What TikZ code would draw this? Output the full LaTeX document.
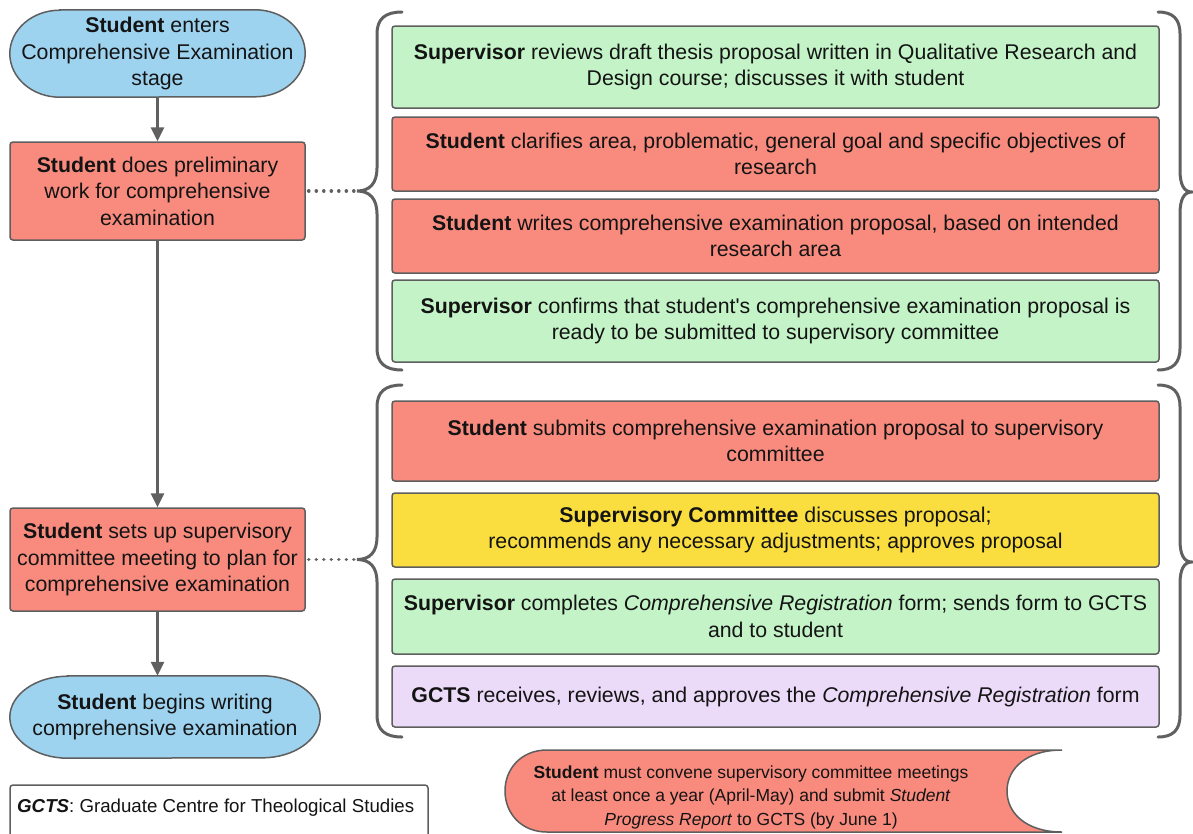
\documentclass[tikz,border=0pt]{standalone}
\usepackage{fontspec}
\setmainfont{Liberation Sans}
\usetikzlibrary{arrows.meta,backgrounds}
\definecolor{cblue}{HTML}{9ED3F0}
\definecolor{csalmon}{HTML}{F98B7E}
\definecolor{cgreen}{HTML}{C3F3C7}
\definecolor{cyellow}{HTML}{FADE3F}
\definecolor{clav}{HTML}{ECDAF9}
\definecolor{cborder}{HTML}{5E5E5E}
\definecolor{cline}{HTML}{606060}
\definecolor{ctext}{HTML}{141414}
\tikzset{
  basebox/.style={draw=cborder, line width=1.5pt, rounded corners=3pt, inner ysep=0pt, inner xsep=2pt,
    align=center, text=ctext, font=\fontsize{21.3}{26.5}\selectfont},
  lbox/.style={basebox, minimum width=295pt},
  rbox/.style={basebox, minimum width=767pt},
  stadtext/.style={inner ysep=0pt, inner xsep=0pt, align=center, text=ctext, font=\fontsize{21.3}{26.5}\selectfont},
  stad/.style={draw=cborder, line width=1.5pt, fill=cblue},
  flow/.style={draw=cline, line width=3pt, -{Triangle[width=13pt,length=14pt]}},
  dotline/.style={draw=cline, line width=3.6pt, dash pattern=on 0.01pt off 7.5pt, line cap=round},
  bracepath/.style={draw=cline, line width=3pt, line cap=round},
}
\begin{document}
\begin{tikzpicture}[x=1pt,y=-1pt]
\useasboundingbox (0,0) rectangle (1193,833);
\clip (0,0) rectangle (1193,833);

% left column
\node[stadtext, minimum width=295pt, minimum height=87pt] (n1) at (157.5,53.5)
  {\textbf{Student} enters\\Comprehensive Examination\\stage};
\node[lbox, fill=csalmon, minimum height=98pt] (n2) at (157.5,191)
  {\textbf{Student} does preliminary\\work for comprehensive\\examination};
\node[lbox, fill=csalmon, minimum height=103pt] (n3) at (157.5,559.5)
  {\textbf{Student} sets up supervisory\\committee meeting to plan for\\comprehensive examination};
\node[stadtext, minimum width=310pt, minimum height=82pt] (n4) at (165,717)
  {\textbf{Student} begins writing\\comprehensive examination};

\begin{scope}[on background layer]
\fill[white] (0,0) rectangle (1193,833);
\path[stad] ([xshift=50pt]n1.north west) -- ([xshift=-50pt]n1.north east)
  arc[start angle=90, end angle=-90, x radius=50pt, y radius=43.5pt]
  -- ([xshift=50pt]n1.south west)
  arc[start angle=270, end angle=90, x radius=50pt, y radius=43.5pt] -- cycle;
\path[stad] ([xshift=58pt]n4.north west) -- ([xshift=-58pt]n4.north east)
  arc[start angle=90, end angle=-90, x radius=58pt, y radius=41pt]
  -- ([xshift=58pt]n4.south west)
  arc[start angle=270, end angle=90, x radius=58pt, y radius=41pt] -- cycle;
\end{scope}

\draw[flow] (n1.south) -- (n2.north);
\draw[flow] (n2.south) -- (n3.north);
\draw[flow] (n3.south) -- (n3.south |- n4.north);

% right group 1
\node[rbox, fill=cgreen, minimum height=82pt] (a) at (775.5,67)
  {\textbf{Supervisor} reviews draft thesis proposal written in Qualitative Research and\\Design course; discusses it with student};
\node[rbox, fill=csalmon, minimum height=74pt] (b) at (775.5,154)
  {\textbf{Student} clarifies area, problematic, general goal and specific objectives of\\research};
\node[rbox, fill=csalmon, minimum height=74pt] (c) at (775.5,236)
  {\textbf{Student} writes comprehensive examination proposal, based on intended\\research area};
\node[rbox, fill=cgreen, minimum height=82pt] (d) at (775.5,321)
  {\textbf{Supervisor} confirms that student\textquotesingle s comprehensive examination proposal is\\ready to be submitted to supervisory committee};

% right group 2
\node[rbox, fill=csalmon, minimum height=80pt] (e) at (775.5,441)
  {\textbf{Student} submits comprehensive examination proposal to supervisory\\committee};
\node[rbox, fill=cyellow, minimum height=74pt] (f) at (775.5,530)
  {\textbf{Supervisory Committee} discusses proposal;\\recommends any necessary adjustments; approves proposal};
\node[rbox, fill=cgreen, minimum height=75pt] (g) at (775.5,616.5)
  {\textbf{Supervisor} completes \textit{Comprehensive Registration} form; sends form to GCTS\\and to student};
\node[rbox, fill=clav, minimum height=61pt] (h) at (775.5,696.5)
  {\textbf{GCTS} receives, reviews, and approves the \textit{Comprehensive Registration} form};

% braces
\coordinate (t1) at (357,191);
\coordinate (t2) at (357,559.5);
\draw[bracepath] (402,12) .. controls (385,12) and (377,19) .. (377,34) -- (377,168)
  .. controls (377,183) and (370,191) .. (t1)
  .. controls (370,191) and (377,199) .. (377,214) -- (377,348)
  .. controls (377,363) and (385,370) .. (402,370);
\draw[bracepath] (1158,12) .. controls (1173,12) and (1180,19) .. (1180,34) -- (1180,170)
  .. controls (1180,185) and (1184,192) .. (1192,192)
  .. controls (1184,192) and (1180,199) .. (1180,214) -- (1180,348)
  .. controls (1180,363) and (1173,370) .. (1158,370);
\draw[bracepath] (402,385) .. controls (385,385) and (377,392) .. (377,407) -- (377,537)
  .. controls (377,552) and (370,559.5) .. (t2)
  .. controls (370,559.5) and (377,567) .. (377,582) -- (377,715)
  .. controls (377,730) and (385,737) .. (402,737);
\draw[bracepath] (1158,385) .. controls (1173,385) and (1180,392) .. (1180,407) -- (1180,540)
  .. controls (1180,555) and (1184,562) .. (1192,562)
  .. controls (1184,562) and (1180,569) .. (1180,584) -- (1180,715)
  .. controls (1180,730) and (1173,737) .. (1158,737);

\draw[dotline] ([xshift=3pt]n2.east) -- (t1);
\draw[dotline] ([xshift=3pt]n3.east) -- (t2);

% legend
\draw[draw=cborder, line width=1.5pt, rounded corners=3pt] (10,785) rectangle (428,850);
\node[anchor=west, inner sep=0pt, text=ctext, font=\fontsize{18.7}{22}\selectfont] (leg) at (17,808)
  {\textbf{\textit{GCTS}}: Graduate Centre for Theological Studies};

% note (stored data shape)
\draw[draw=cborder, line width=1.5pt, fill=csalmon] (547,750) -- (1062,750)
  .. controls (1026,750) and (1007,769) .. (1007,791)
  .. controls (1007,813) and (1026,832) .. (1062,832)
  -- (547,832)
  .. controls (521,832) and (505,813) .. (505,791)
  .. controls (505,769) and (521,750) .. (547,750) -- cycle;
\node[inner sep=0pt, align=center, text=ctext, font=\fontsize{17.5}{23.5}\selectfont] (note) at (751,797)
  {\textbf{Student} must convene supervisory committee meetings\\at least once a year (April-May) and submit \textit{Student}\\\textit{Progress Report} to GCTS (by June 1)};
\end{tikzpicture}
\end{document}
